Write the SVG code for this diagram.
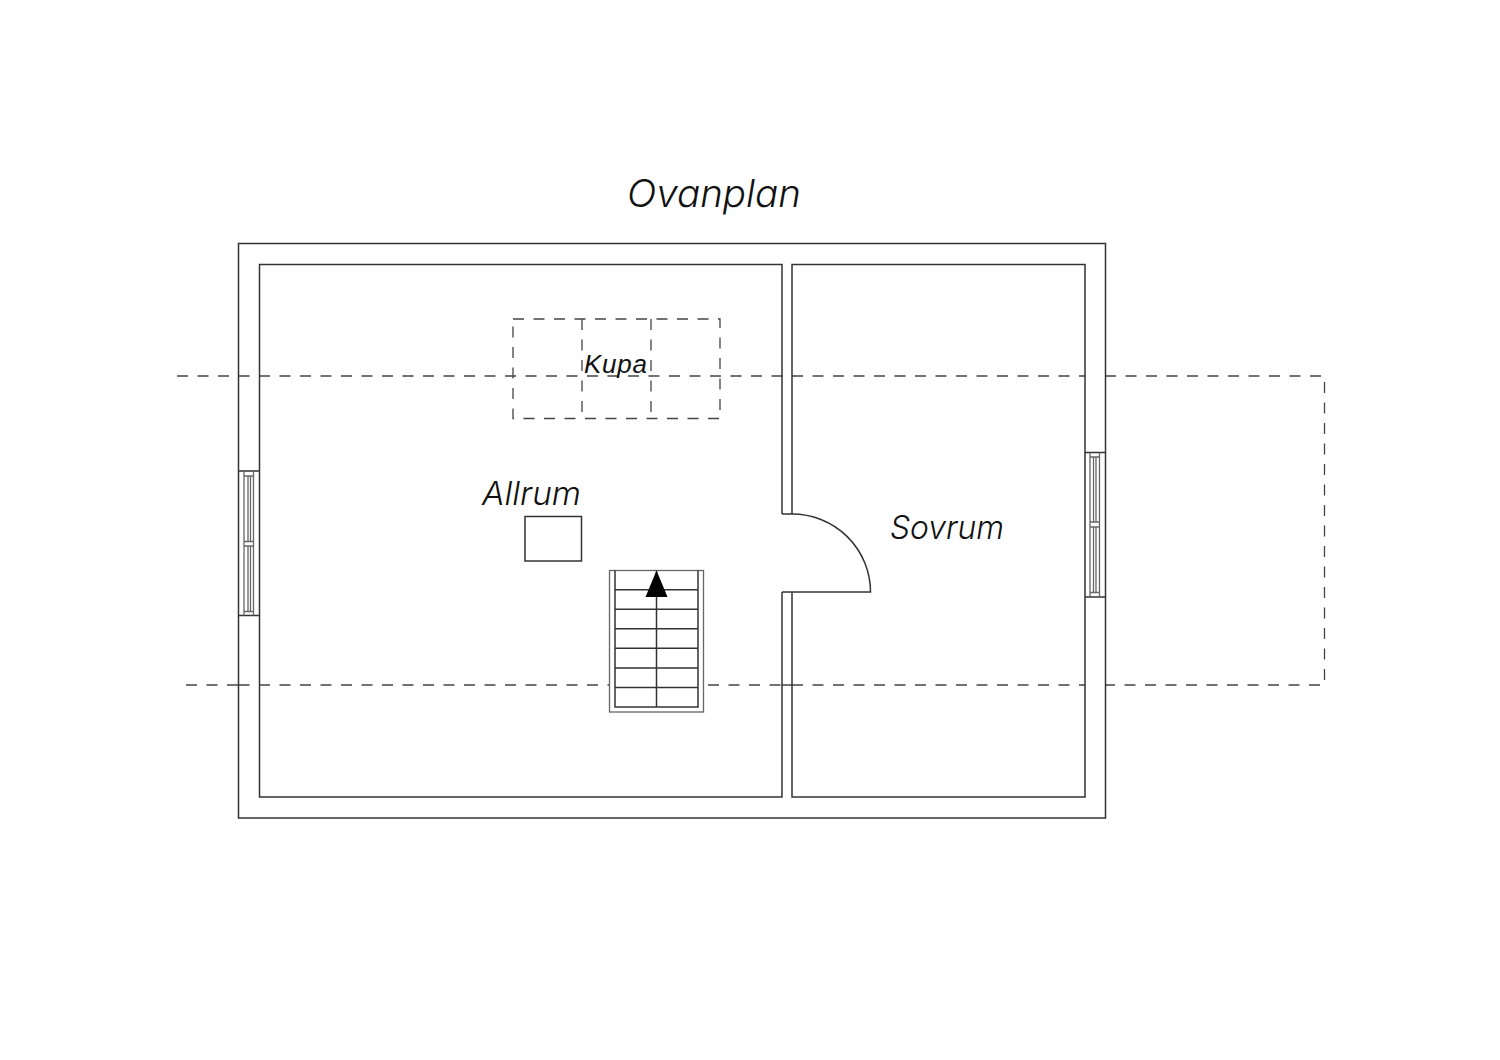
<svg xmlns="http://www.w3.org/2000/svg" width="1500" height="1060" viewBox="0 0 1500 1060">
<style>
.l{fill:none;stroke:#333;stroke-width:1.5}
.t{fill:none;stroke:#666;stroke-width:1.3}
.d{fill:none;stroke:#444;stroke-width:1.3;stroke-dasharray:11 9.500}
.lb{font-family:"Inter","Open Sans",sans-serif;font-style:italic;font-weight:300;fill:#111}
</style>
<rect width="1500" height="1060" fill="#fff"/>
<g id="connectors">
<path class="d" d="M177 376H1085M1105 376H1324.500V685H1105"/>
<path class="d" d="M186 685H238M238.500 685H259M259 685H609"/>
<path class="d" d="M708 685H782M782 685H792M792 685H1085"/>
</g>
<g id="walls">
<rect class="l" x="238.500" y="243.500" width="867" height="574.500"/>
<path class="l" d="M782 514V264.500H259.500V797H782V592M792 592V797H1085V264.500H792V514"/>
</g>
<g id="door">
<path class="l" d="M782 514H792A78.500 78 0 0 1 870.500 592H782"/>
</g>
<g id="window-left">
<path class="l" d="M238.500 471H259.500M238.500 615.500H259.500"/>
<path class="t" d="M244 471V615.500M253.500 471V615.500M248 476V541.500M250.500 476V541.500M248 546V611.500M250.500 546V611.500M244 476H253.500M244 541.500H253.500M244 546H253.500M244 611.500H253.500"/>
</g>
<g id="window-right">
<path class="l" d="M1085 452.500H1105.500M1085 597H1105.500"/>
<path class="t" d="M1090 452.500V597M1099.500 452.500V597M1093.500 457V522M1096 457V522M1093.500 527V592.500M1096 527V592.500M1090 457H1099.500M1090 522H1099.500M1090 527H1099.500M1090 592.500H1099.500"/>
</g>
<g id="stairs">
<rect class="t" x="609.500" y="570.500" width="94" height="141.500"/>
<path class="l" d="M615 570.500V707H698V570.500M656.500 570.500V707M615 589.700H698M615 609.300H698M615 628.800H698M615 648.300H698M615 667.900H698M615 687.600H698"/>
<polygon points="656.500,570.500 667.500,597 645.500,597" fill="#000"/>
</g>
<g id="chimney"><rect class="l" x="525" y="516.500" width="56.500" height="44.500"/></g>
<g id="dormer">
<rect class="d" x="513" y="319" width="207" height="99.500"/>
<path class="d" d="M582 319V418.500M651 319V418.500"/>
<text x="584" y="373" font-family="Liberation Sans, sans-serif" font-style="italic" font-size="26" fill="#111" textLength="63">Kupa</text>
</g>
<g id="labels">
<text class="lb" x="627" y="207" font-size="38" textLength="174" lengthAdjust="spacingAndGlyphs">Ovanplan</text>
<text class="lb" x="482" y="505" font-size="33" textLength="99" lengthAdjust="spacingAndGlyphs">Allrum</text>
<text class="lb" x="890" y="539" font-size="33" textLength="114" lengthAdjust="spacingAndGlyphs">Sovrum</text>
</g>
</svg>
